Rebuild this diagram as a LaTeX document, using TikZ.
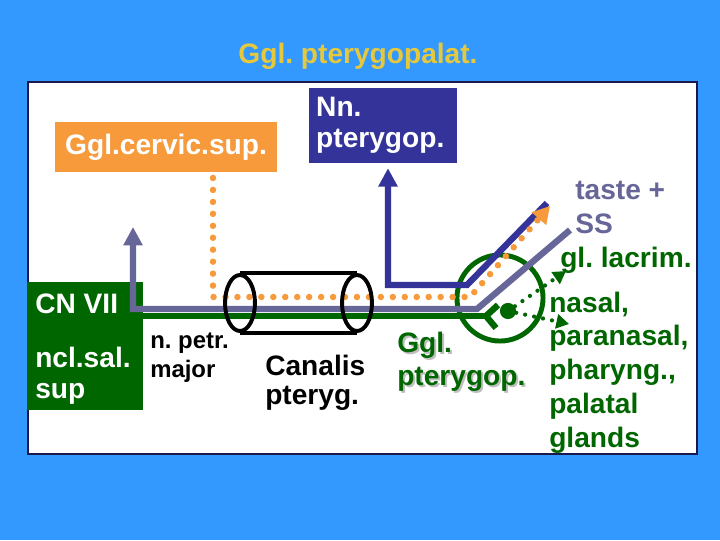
\documentclass[tikz,border=0pt]{standalone}
\usepackage{fontspec}
\setmainfont{Liberation Sans}
\usetikzlibrary{shapes.geometric, arrows, arrows.meta, positioning}
\frenchspacing

\definecolor{slideblue}{HTML}{3399FF}
\definecolor{titlegold}{HTML}{E6C83C}
\definecolor{symporange}{HTML}{F79A3C}
\definecolor{nervnavy}{HTML}{333399}
\definecolor{chordagray}{HTML}{666699}
\definecolor{viigreen}{HTML}{006600}

\tikzstyle{txt} = [font=\bfseries\fontsize{20}{21}\selectfont, inner sep=0pt, align=left, anchor=base west]
\tikzstyle{colbox} = [rectangle, text=white, font=\bfseries\fontsize{20}{22}\selectfont]
\tikzstyle{symp} = [draw=symporange, line width=4.6pt, line cap=round, dash pattern=on 0pt off 8.5pt]
\tikzstyle{para} = [draw=nervnavy, line width=4.5pt]
\tikzstyle{taste} = [draw=chordagray, line width=4.5pt]
\tikzstyle{pregg} = [draw=viigreen, line width=4.5pt]
\tikzstyle{postgg} = [draw=viigreen, line width=3pt, line cap=round, dash pattern=on 0pt off 6.5pt]
\tikzstyle{canal} = [ellipse, draw=black, line width=2.8pt, inner sep=0pt, minimum width=21.3pt, minimum height=39.8pt]

\begin{document}
\begin{tikzpicture}[x=0.025cm, y=-0.025cm, >={Triangle[width=13pt,length=13pt]}]
    \useasboundingbox (0,0) rectangle (720,540);
    \fill[slideblue] (0,0) rectangle (720,540);
    \draw[fill=white, draw=nervnavy!50!black, line width=1pt] (28,82) rectangle (697,454);

    \node at (358,63) [txt, anchor=base, text=titlegold] (title) {Ggl. pterygopalat.};

    \node at (166,147) [colbox, fill=symporange, minimum width=158pt, minimum height=35.6pt] (cervic) {Ggl.cervic.sup.};
    \node at (383,125.5) [colbox, fill=nervnavy, minimum width=105.3pt, minimum height=53.4pt, text width=95pt, align=left, inner xsep=5pt] (nnpt) {Nn.\\pterygop.};
    \node at (85,346) [rectangle, fill=viigreen, minimum width=82.5pt, minimum height=91pt] (cnvii) {};
    \node at (35,313) [txt, text=white] (cnlabel) {CN VII};
    \node at (35,398) [txt, text=white, font=\bfseries\fontsize{20}{22}\selectfont] (ncl) {ncl.sal.\\sup};

    \node at (500,298) [circle, draw=viigreen, line width=3.5pt, minimum size=61.2pt, inner sep=0pt] (ggcirc) {};
    \node at (508,311) [circle, fill=viigreen, minimum size=11.5pt, inner sep=0pt] (soma) {};

    \coordinate (tastetip) at (133,227);
    \coordinate (tastecorner) at (133,309);
    \coordinate (tastebend) at (477,309);
    \coordinate (tasteend) at (570,230);
    \coordinate (viiend) at (486,316);
    \coordinate (forkup) at (498,305);
    \coordinate (forkdown) at (496,328);
    \coordinate (paracorner) at (388,285);
    \coordinate (parabend) at (467,285);
    \coordinate (paraend) at (547,203);
    \coordinate (symptop) at (213,178);
    \coordinate (sympcorner) at (213,297);
    \coordinate (sympbend) at (470,297);
    \coordinate (symptip) at (550,206);
    \coordinate (lacrtip) at (566,271);
    \coordinate (nasaltip) at (569,324);

    \draw[taste, <-] (tastetip) -- (tastecorner) -- (tastebend) -- (tasteend);
    \draw[pregg] (cnvii.east |- viiend) -- (viiend);
    \draw[pregg] (forkup) -- (viiend) -- (forkdown);
    \draw[para, ->, shorten >=3.5pt] (paraend) -- (parabend) -- (paracorner) -- (paracorner |- nnpt.south);
    \draw[symp, ->, >={Triangle[width=13pt,length=12pt]}] (symptop) -- (sympcorner) -- (sympbend) -- (symptip);
    \draw[postgg, ->, >={Triangle[width=10pt,length=9pt]}] (soma) -- (lacrtip);
    \draw[postgg, ->, >={Triangle[width=10pt,length=9pt]}] (soma) -- (nasaltip);

    \node at (240,303) [canal] (canalin) {};
    \node at (357,303) [canal] (canalout) {};
    \draw[line width=2.8pt] (canalin.north) -- (canalout.north);
    \draw[line width=2.8pt] (canalin.south) -- (canalout.south);

    \node at (150,377) [txt, font=\bfseries\fontsize{17}{20.6}\selectfont] (petr) {n. petr.\\major};
    \node at (265,404) [txt, font=\bfseries\fontsize{20}{20}\selectfont] (canalis) {Canalis\\pteryg.};
    \node at (399,387) [txt, text=black!25, font=\bfseries\fontsize{20}{23}\selectfont] (gglshadow) {Ggl.\\pterygop.};
    \node at (397,385) [txt, text=viigreen, font=\bfseries\fontsize{20}{23}\selectfont] (gglpt) {Ggl.\\pterygop.};
    \node at (575,233) [txt, text=chordagray, font=\bfseries\fontsize{20}{23.5}\selectfont] (tastess) {taste +\\SS};
    \node at (560,267) [txt, text=viigreen] (lacrim) {gl. lacrim.};
    \node at (549,447) [txt, text=viigreen, font=\bfseries\fontsize{20}{24}\selectfont] (glands) {nasal,\\paranasal,\\pharyng.,\\palatal\\glands};
\end{tikzpicture}
\end{document}
